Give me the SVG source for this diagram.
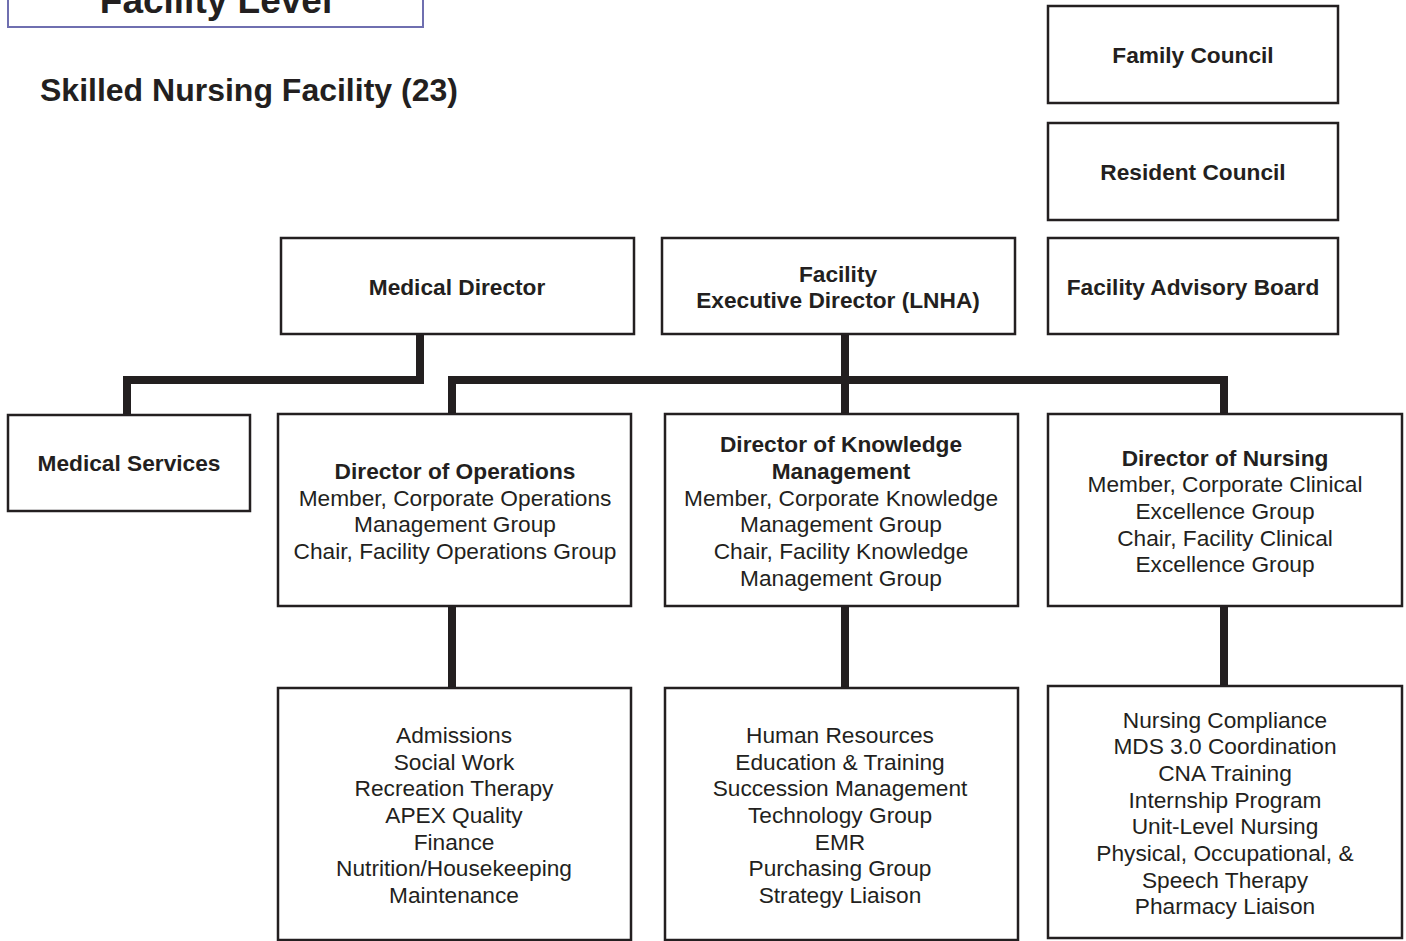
<svg xmlns="http://www.w3.org/2000/svg" width="1406" height="941" viewBox="0 0 1406 941">
  <style>
    .box { fill: #ffffff; stroke: #231f20; stroke-width: 2.5; }
    .t { font-family: "Liberation Sans", Arial, sans-serif; font-size: 22.7px; fill: #231f20; text-anchor: middle; }
    .b { font-weight: bold; }
    .link { fill: none; stroke: #231f20; stroke-width: 8; stroke-linejoin: miter; }
  </style>
  <rect width="1406" height="941" fill="#ffffff"/>

  <!-- page heading -->
  <g id="level-banner">
    <rect x="8" y="-20" width="415" height="47" fill="#ffffff" stroke="#6f6fb0" stroke-width="2"/>
    <text x="216" y="13" font-family="Liberation Sans, Arial, sans-serif" font-size="37" font-weight="bold" fill="#231f20" text-anchor="middle">Facility Level</text>
  </g>
  <text id="title" x="40" y="101" font-family="Liberation Sans, Arial, sans-serif" font-size="32" font-weight="bold" fill="#231f20">Skilled Nursing Facility (23)</text>

  <!-- connectors -->
  <g id="connectors">
    <polyline class="link" points="420,334 420,380 127,380 127,415"/>
    <line class="link" x1="845" y1="334" x2="845" y2="414"/>
    <polyline class="link" points="452,414 452,380 1224,380 1224,414"/>
    <line class="link" x1="452" y1="606" x2="452" y2="688"/>
    <line class="link" x1="845" y1="606" x2="845" y2="688"/>
    <line class="link" x1="1224" y1="606" x2="1224" y2="686"/>
  </g>

  <g id="family-council">
    <rect class="box" x="1048" y="6" width="290" height="97"/>
    <text class="t b" x="1193" y="63">Family Council</text>
  </g>
  <g id="resident-council">
    <rect class="box" x="1048" y="123" width="290" height="97"/>
    <text class="t b" x="1193" y="180">Resident Council</text>
  </g>
  <g id="advisory-board">
    <rect class="box" x="1048" y="238" width="290" height="96"/>
    <text class="t b" x="1193" y="295">Facility Advisory Board</text>
  </g>

  <g id="medical-director">
    <rect class="box" x="281" y="238" width="353" height="96"/>
    <text class="t b" x="457" y="295">Medical Director</text>
  </g>
  <g id="executive-director">
    <rect class="box" x="662" y="238" width="353" height="96"/>
    <text class="t b" x="838" y="282">Facility</text>
    <text class="t b" x="838" y="308">Executive Director (LNHA)</text>
  </g>

  <g id="medical-services">
    <rect class="box" x="8" y="415" width="242" height="96"/>
    <text class="t b" x="129" y="471">Medical Services</text>
  </g>

  <g id="director-operations">
    <rect class="box" x="278" y="414" width="353" height="192"/>
    <text class="t b" x="455" y="479">Director of Operations</text>
    <text class="t" x="455" y="506">Member, Corporate Operations</text>
    <text class="t" x="455" y="532">Management Group</text>
    <text class="t" x="455" y="559">Chair, Facility Operations Group</text>
  </g>
  <g id="director-knowledge">
    <rect class="box" x="665" y="414" width="353" height="192"/>
    <text class="t b" x="841" y="452">Director of Knowledge</text>
    <text class="t b" x="841" y="479">Management</text>
    <text class="t" x="841" y="506">Member, Corporate Knowledge</text>
    <text class="t" x="841" y="532">Management Group</text>
    <text class="t" x="841" y="559">Chair, Facility Knowledge</text>
    <text class="t" x="841" y="586">Management Group</text>
  </g>
  <g id="director-nursing">
    <rect class="box" x="1048" y="414" width="354" height="192"/>
    <text class="t b" x="1225" y="466">Director of Nursing</text>
    <text class="t" x="1225" y="492">Member, Corporate Clinical</text>
    <text class="t" x="1225" y="519">Excellence Group</text>
    <text class="t" x="1225" y="546">Chair, Facility Clinical</text>
    <text class="t" x="1225" y="572">Excellence Group</text>
  </g>

  <g id="operations-units">
    <rect class="box" x="278" y="688" width="353" height="252"/>
    <text class="t" x="454" y="743">Admissions</text>
    <text class="t" x="454" y="770">Social Work</text>
    <text class="t" x="454" y="796">Recreation Therapy</text>
    <text class="t" x="454" y="823">APEX Quality</text>
    <text class="t" x="454" y="850">Finance</text>
    <text class="t" x="454" y="876">Nutrition/Housekeeping</text>
    <text class="t" x="454" y="903">Maintenance</text>
  </g>
  <g id="knowledge-units">
    <rect class="box" x="665" y="688" width="353" height="252"/>
    <text class="t" x="840" y="743">Human Resources</text>
    <text class="t" x="840" y="770">Education &amp; Training</text>
    <text class="t" x="840" y="796">Succession Management</text>
    <text class="t" x="840" y="823">Technology Group</text>
    <text class="t" x="840" y="850">EMR</text>
    <text class="t" x="840" y="876">Purchasing Group</text>
    <text class="t" x="840" y="903">Strategy Liaison</text>
  </g>
  <g id="nursing-units">
    <rect class="box" x="1048" y="686" width="354" height="252"/>
    <text class="t" x="1225" y="728">Nursing Compliance</text>
    <text class="t" x="1225" y="754">MDS 3.0 Coordination</text>
    <text class="t" x="1225" y="781">CNA Training</text>
    <text class="t" x="1225" y="808">Internship Program</text>
    <text class="t" x="1225" y="834">Unit-Level Nursing</text>
    <text class="t" x="1225" y="861">Physical, Occupational, &amp;</text>
    <text class="t" x="1225" y="888">Speech Therapy</text>
    <text class="t" x="1225" y="914">Pharmacy Liaison</text>
  </g>
</svg>
